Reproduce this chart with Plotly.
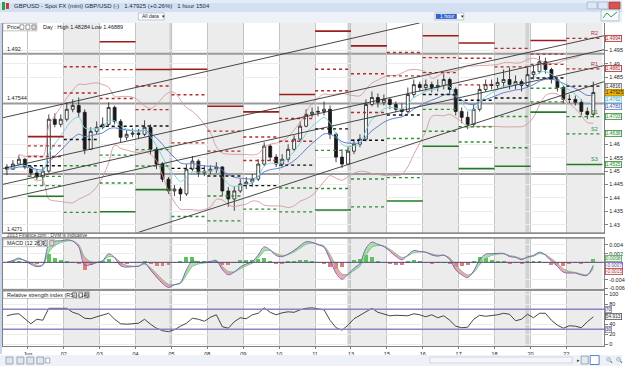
import numpy as np
import pandas as pd
import plotly.graph_objects as go

# ---------------- data ----------------
day_labels = ["Jun", "02", "03", "04", "05", "08", "09", "10", "11", "13",
              "15", "16", "17", "18", "20", "22"]
# 4-hour bars: day index (0 = Jun 1) and slot within the day (0..5)
bar_day = [-1] * 4 + [d for d in range(15) for _ in range(6)] + [15] * 5
bar_slot = [2, 3, 4, 5] + list(range(6)) * 15 + [0, 1, 2, 3, 4]

first_open = 1.4515
close = [
    1.4507, 1.4526, 1.4544, 1.4515,
    1.4493, 1.4478, 1.4500, 1.4693, 1.4674, 1.4693,
    1.4730, 1.4744, 1.4719, 1.4581, 1.4648, 1.4663,
    1.4674, 1.4737, 1.4685, 1.4626, 1.4637, 1.4641,
    1.4637, 1.4663, 1.4581, 1.4526, 1.4470, 1.4426,
    1.4433, 1.4415, 1.4507, 1.4537, 1.4493, 1.4500,
    1.4507, 1.4515, 1.4426, 1.4396, 1.4426, 1.4452,
    1.4459, 1.4470, 1.4526, 1.4593, 1.4552, 1.4526,
    1.4544, 1.4581, 1.4619, 1.4667, 1.4711, 1.4719,
    1.4722, 1.4730, 1.4637, 1.4552, 1.4526, 1.4574,
    1.4600, 1.4619, 1.4748, 1.4774, 1.4756, 1.4767,
    1.4748, 1.4730, 1.4722, 1.4785, 1.4822, 1.4811,
    1.4822, 1.4811, 1.4819, 1.4841, 1.4804, 1.4722,
    1.4700, 1.4674, 1.4730, 1.4804, 1.4822, 1.4819,
    1.4830, 1.4841, 1.4822, 1.4833, 1.4819, 1.4859,
    1.4870, 1.4907, 1.4878, 1.4841, 1.4811, 1.4767,
    1.4767, 1.4756, 1.4722, 1.4711, 1.47925,
]
high = [
    1.4526, 1.4541, 1.4559, 1.4548,
    1.4522, 1.4507, 1.4515, 1.4711, 1.4715, 1.4711,
    1.4756, 1.4767, 1.4774, 1.4730, 1.4663, 1.4685,
    1.4700, 1.4756, 1.4744, 1.4693, 1.4652, 1.4659,
    1.4656, 1.4689, 1.4674, 1.4589, 1.4533, 1.4478,
    1.4448, 1.4441, 1.4526, 1.4556, 1.4544, 1.4522,
    1.4522, 1.4533, 1.4519, 1.4441, 1.4444, 1.4470,
    1.4478, 1.4489, 1.4544, 1.4607, 1.4600, 1.4563,
    1.4563, 1.4600, 1.4633, 1.4685, 1.4730, 1.4737,
    1.4741, 1.4759, 1.4744, 1.4644, 1.4581, 1.4589,
    1.4619, 1.4637, 1.4767, 1.4796, 1.4789, 1.4785,
    1.4774, 1.4759, 1.4752, 1.4811, 1.4841, 1.4833,
    1.4841, 1.4833, 1.4841, 1.4863, 1.4848, 1.4811,
    1.4737, 1.4722, 1.4748, 1.4822, 1.4841, 1.4841,
    1.4848, 1.4878, 1.4885, 1.4856, 1.4841, 1.4885,
    1.4893, 1.4930, 1.4922, 1.4885, 1.4848, 1.4819,
    1.4785, 1.4781, 1.4767, 1.4737, 1.4833,
]
low = [
    1.4485, 1.4504, 1.4522, 1.4507,
    1.4478, 1.4467, 1.4444, 1.4493, 1.4663, 1.4663,
    1.4685, 1.4719, 1.4700, 1.4563, 1.4581, 1.4637,
    1.4656, 1.4667, 1.4674, 1.4607, 1.4615, 1.4626,
    1.4622, 1.4630, 1.4563, 1.4507, 1.4459, 1.4415,
    1.4407, 1.4389, 1.4407, 1.4500, 1.4478, 1.4481,
    1.4489, 1.4493, 1.4407, 1.4367, 1.4352, 1.4419,
    1.4433, 1.4441, 1.4463, 1.4519, 1.4537, 1.4515,
    1.4515, 1.4533, 1.4574, 1.4611, 1.4663, 1.4700,
    1.4704, 1.4707, 1.4619, 1.4533, 1.4511, 1.4522,
    1.4563, 1.4589, 1.4611, 1.4741, 1.4737, 1.4744,
    1.4730, 1.4719, 1.4704, 1.4715, 1.4774, 1.4796,
    1.4800, 1.4793, 1.4796, 1.4804, 1.4789, 1.4707,
    1.4678, 1.4656, 1.4663, 1.4722, 1.4796, 1.4804,
    1.4807, 1.4811, 1.4804, 1.4804, 1.4796, 1.4811,
    1.4841, 1.4863, 1.4863, 1.4826, 1.4796, 1.4752,
    1.4752, 1.4744, 1.4707, 1.4693, 1.4700,
]
rsi_values = [
    57, 60, 61, 50,
    41, 50, 48, 72, 72, 71,
    72, 64, 60, 52, 51, 55,
    59, 62, 50, 41, 40, 41,
    42, 50, 40, 32, 27, 25,
    29, 36, 42, 52, 50, 46,
    54, 59, 35, 32, 45, 53,
    51, 59, 62, 73, 64, 59,
    63, 65, 64, 69, 72, 73,
    71, 69, 48, 33, 28, 38,
    51, 58, 64, 72, 64, 60,
    57, 58, 57, 57, 61, 59,
    55, 59, 53, 57, 48, 36,
    33, 34, 50, 58, 56, 57,
    59, 62, 60, 47, 50, 60,
    53, 62, 62, 48, 38, 32,
    37, 36, 33, 45, 54.913,
]
# drawn trend lines (start day, start price, end day, end price)
trend_x0 = [-0.78, -0.78, -0.78, -0.78, 2.97]
trend_y0 = [1.4696, 1.4507, 1.4448, 1.4393, 1.4267]
trend_x1 = [10.92, 16.05, 16.05, 16.05, 16.05]
trend_y1 = [1.5052, 1.5004, 1.4952, 1.4893, 1.4833]
key_levels = [1.4937, 1.4752, 1.4489]
key_level_text = ["1.492", "1.47544", ""]
sunday_strips = [(3.94, 4.02), (8.90, 8.98), (13.86, 13.96)]

# ---------------- helpers ----------------
W, H = 625, 368
FONT = "Liberation Sans"


def PX(p):
    return p / W


def PY(p):
    return 1 - p / H


X_RANGE = [-0.693, 16.05]
P_RANGE = [1.427037, 1.505185]
M_RANGE = [-0.00625, 0.00557]
R_RANGE = [-4, 106]

bar_x = [d + (s + 0.5) / 6 for d, s in zip(bar_day, bar_slot)]
c = pd.Series(close)
opens = [first_open] + close[:-1]

# indicators
ema_fast = c.ewm(span=5, adjust=False).mean()
ema_slow = c.ewm(span=12, adjust=False).mean()
bb_mid = c.rolling(12, min_periods=3).mean()
bb_sd = c.rolling(12, min_periods=3).std()
bb_up = bb_mid + 2 * bb_sd
bb_lo = bb_mid - 2 * bb_sd
macd = c.ewm(span=3, adjust=False).mean() - c.ewm(span=6.5, adjust=False).mean()
signal = macd.ewm(span=2.25, adjust=False).mean()
hist = macd - signal

fig = go.Figure()
shapes = []
ann = []

# shaded alternate days & sunday strips in each panel
for yref in ["y domain", "y2 domain", "y3 domain"]:
    for d in range(1, 17, 2):
        shapes.append(dict(type="rect", xref="x", yref=yref, x0=d, x1=d + 1, y0=0, y1=1,
                           fillcolor="#ececec", line_width=0, layer="below"))
    for a, b in sunday_strips:
        shapes.append(dict(type="rect", xref="x", yref=yref, x0=a, x1=b, y0=0, y1=1,
                           fillcolor="#d2d2d2", line_width=0, layer="below"))

# key horizontal levels
for lv, tx in zip(key_levels, key_level_text):
    shapes.append(dict(type="line", xref="x domain", yref="y", x0=0, x1=1, y0=lv, y1=lv,
                       line=dict(color="#9a9a9a", width=2), layer="below"))
    if tx:
        ann.append(dict(x=PX(5), y=lv, xref="paper", yref="y", text=tx, showarrow=False,
                        xanchor="left", yanchor="bottom", font=dict(size=5.5, color="#222", family=FONT)))

# Bollinger bands
for s in (bb_up, bb_lo):
    fig.add_trace(go.Scatter(x=bar_x, y=s, mode="lines", line=dict(color="#d49a9a", width=0.9,
                                                                     shape="spline"), hoverinfo="skip"))
# moving averages
fig.add_trace(go.Scatter(x=bar_x, y=ema_slow, mode="lines", line=dict(color="#5f7fcf", width=1, shape="spline")))
fig.add_trace(go.Scatter(x=bar_x, y=ema_fast, mode="lines", line=dict(color="#7ad3e0", width=1, shape="spline")))

# daily pivots from previous day
df = pd.DataFrame(dict(day=bar_day, h=high, l=low, c=close))
daily = df.groupby("day").agg(h=("h", "max"), l=("l", "min"), c=("c", "last"))
levels = {k: ([], []) for k in ["P", "R1", "R2", "R3", "S1", "S2", "S3"]}
last_piv = {}
for d in range(0, 16):
    if d - 1 not in daily.index:
        continue
    hh, ll, cc = daily.loc[d - 1, "h"], daily.loc[d - 1, "l"], daily.loc[d - 1, "c"]
    p = (hh + ll + cc) / 3
    vals = dict(P=p, R1=2 * p - ll, S1=2 * p - hh, R2=p + (hh - ll), S2=p - (hh - ll),
                R3=hh + 2 * (p - ll), S3=ll - 2 * (hh - p))
    last_piv = vals
    x1 = min(d + 1, X_RANGE[1])
    for k, v in vals.items():
        levels[k][0].extend([d, x1, None])
        levels[k][1].extend([v, v, None])
piv_style = dict(P=("#111111", "dot", 1.4), R1=("#b52a2a", "dot", 1.4), R2=("#b52a2a", "dot", 1.4),
                 R3=("#9a1c1c", "solid", 1.6), S1=("#2f8f2f", "dot", 1.4), S2=("#2f8f2f", "dot", 1.4),
                 S3=("#247a24", "solid", 1.6))
for k, (xs, ys) in levels.items():
    col, dash, wd = piv_style[k]
    fig.add_trace(go.Scatter(x=xs, y=ys, mode="lines", line=dict(color=col, dash=dash, width=wd),
                             connectgaps=False))

# trend lines
for a, b, cc_, dd in zip(trend_x0, trend_y0, trend_x1, trend_y1):
    fig.add_trace(go.Scatter(x=[a, cc_], y=[b, dd], mode="lines", line=dict(color="#333333", width=0.9)))

# candles
fig.add_trace(go.Candlestick(x=bar_x, open=opens, high=high, low=low, close=close,
                             increasing=dict(line=dict(color="#1a1a1a", width=0.8), fillcolor="#ffffff"),
                             decreasing=dict(line=dict(color="#1a1a1a", width=0.8), fillcolor="#1a1a1a"),
                             whiskerwidth=0))

# ---------- MACD panel ----------
def fill_polys(xs, a, b):
    px_, py_, nx_, ny_ = [], [], [], []
    for i in range(len(xs) - 1):
        x0, x1 = xs[i], xs[i + 1]
        a0, a1, b0, b1 = a[i], a[i + 1], b[i], b[i + 1]
        d0, d1 = a0 - b0, a1 - b1
        if d0 * d1 >= 0:
            tx, ty = [x0, x1, x1, x0, x0, None], [a0, a1, b1, b0, a0, None]
            if d0 + d1 >= 0:
                px_ += tx; py_ += ty
            else:
                nx_ += tx; ny_ += ty
        else:
            t = d0 / (d0 - d1)
            xc = x0 + t * (x1 - x0)
            yc = a0 + t * (a1 - a0)
            t1x, t1y = [x0, xc, x0, x0, None], [a0, yc, b0, a0, None]
            t2x, t2y = [xc, x1, x1, xc, None], [yc, a1, b1, yc, None]
            if d0 > 0:
                px_ += t1x; py_ += t1y; nx_ += t2x; ny_ += t2y
            else:
                nx_ += t1x; ny_ += t1y; px_ += t2x; py_ += t2y
    return px_, py_, nx_, ny_


pxs, pys, nxs, nys = fill_polys(bar_x, list(macd), list(signal))
fig.add_trace(go.Bar(x=bar_x, y=hist, width=0.11,
                     marker=dict(color=["#5cc35c" if v >= 0 else "#e27b7b" for v in hist], line_width=0),
                     xaxis="x2", yaxis="y2"))
fig.add_trace(go.Scatter(x=pxs, y=pys, fill="toself", fillcolor="rgba(140,220,140,0.75)", mode="none",
                         xaxis="x2", yaxis="y2"))
fig.add_trace(go.Scatter(x=nxs, y=nys, fill="toself", fillcolor="rgba(236,140,150,0.75)", mode="none",
                         xaxis="x2", yaxis="y2"))
fig.add_trace(go.Scatter(x=bar_x, y=signal, mode="lines", line=dict(color="#79c08a", width=0.9, shape="spline"),
                         xaxis="x2", yaxis="y2"))
fig.add_trace(go.Scatter(x=bar_x, y=macd, mode="lines", line=dict(color="#7a55b0", width=0.9, shape="spline"),
                         xaxis="x2", yaxis="y2"))
shapes.append(dict(type="line", xref="x2 domain", yref="y2", x0=0, x1=1, y0=0, y1=0,
                   line=dict(color="#4d4d7a", width=1)))

# ---------- RSI panel ----------
for lv in (70, 30):
    shapes.append(dict(type="line", xref="x3 domain", yref="y3", x0=0, x1=1, y0=lv, y1=lv,
                       line=dict(color="#8585c8", width=1.5)))
fig.add_trace(go.Scatter(x=bar_x, y=rsi_values, mode="lines", line=dict(color="#333333", width=0.9),
                         xaxis="x3", yaxis="y3"))

# ---------- right-side value boxes ----------
def box(y, yref, text, border, bg="#f6f6f6", fc="#333", yshift=0):
    ann.append(dict(x=PX(608), y=y, xref="paper", yref=yref, text=text, showarrow=False,
                    xanchor="left", yanchor="middle", font=dict(size=4.8, color=fc, family=FONT),
                    bgcolor=bg, bordercolor=border, borderwidth=0.8, borderpad=0, yshift=yshift))


price_boxes = []
for k in ["R2", "R1", "S1", "S2", "S3"]:
    v = last_piv[k]
    col = "#b52a2a" if k[0] == "R" else "#2f8f2f"
    box(v, "y", f"{v:.4f}", col, fc=col)
    price_boxes.append(v)
    ann.append(dict(x=15.95, y=v, xref="x", yref="y", text=k, showarrow=False, xanchor="right",
                    yanchor="bottom", font=dict(size=5.5, color=col, family=FONT)))
# stacked boxes next to the last price (as the reference stacks them)
box(close[-1], "y", f"{last_piv['P']:.4f}", "#777777", fc="#333", yshift=6)
box(close[-1], "y", f"{close[-1]:.5f}"[:7], "#c08a00", bg="#f3b400", fc="#222", yshift=0)
box(close[-1], "y", f"{ema_fast.iloc[-1]:.4f}", "#7ad3e0", fc="#2aa0b8", yshift=-7)
box(close[-1], "y", f"{ema_slow.iloc[-1]:.4f}", "#5f7fcf", fc="#3355aa", yshift=-14)
price_boxes += [last_piv["P"], ema_slow.iloc[-1], ema_fast.iloc[-1], close[-1]]

box(0, "y2", f"{hist.iloc[-1]:.4f}", "#4caf50", fc="#2f8f2f", yshift=4)
box(0, "y2", f"{macd.iloc[-1]:.4f}", "#7a55b0", fc="#7a55b0", yshift=-3)
box(0, "y2", f"{signal.iloc[-1]:.4f}", "#c04040", fc="#c04040", yshift=-9)
box(70, "y3", "70", "#8585c8")
box(rsi_values[-1], "y3", f"{rsi_values[-1]:.3f}", "#555555")
box(30, "y3", "30", "#8585c8")

# ---------- chrome ----------
def rect(x0, y0, x1, y1, fill, line="rgba(0,0,0,0)", lw=0):
    shapes.append(dict(type="rect", xref="paper", yref="paper", x0=PX(x0), x1=PX(x1), y0=PY(y1), y1=PY(y0),
                       fillcolor=fill, line=dict(color=line, width=lw), layer="above"))


def text(x, y, t, size=6, color="#222", anchor="left"):
    ann.append(dict(x=PX(x), y=PY(y), xref="paper", yref="paper", text=t, showarrow=False,
                    xanchor=anchor, yanchor="middle", font=dict(size=size, color=color, family=FONT)))


# title bar
rect(0, 0, 625, 12, "#d3e0f1")
rect(0, 0, 625, 3, "#e3ecf8")
rect(2, 2, 5, 10, "#2e9e3e"); rect(6, 3, 9, 9, "#c63a3a")
text(12, 6, "GBPUSD - Spot FX (mini) GBP/USD (-)&nbsp;&nbsp;&nbsp;1.47925 (+0.26%)&nbsp;&nbsp;&nbsp;1 hour 1504",
     size=6, color="#1b2a44")
rect(590, 2, 600, 9, "#dfe7f2", "#8ea3c0", 0.6)
rect(601, 2, 611, 9, "#dfe7f2", "#8ea3c0", 0.6)
rect(612, 2, 623, 9, "#d9534f", "#9a2b28", 0.6)
# toolbar
rect(0, 12, 625, 23, "#eef2f8")
rect(139, 13, 165, 20, "#ffffff", "#9aa5b5", 0.6)
text(141, 16.5, "All data", size=5)
text(161, 16.5, "▾", size=5)
rect(437, 13, 466, 20, "#ffffff", "#9aa5b5", 0.6)
rect(438, 14, 459, 19, "#2f63d0")
text(440, 16.5, "1 hour", size=5, color="#ffffff")
text(461, 16.5, "▾", size=5)
rect(604, 10, 622, 21, "#f7f9fc", "#8ea3c0", 0.6)
shapes.append(dict(type="path", xref="paper", yref="paper", layer="above",
                   path=f"M {PX(606)},{PY(18)} L {PX(610)},{PY(13)} L {PX(614)},{PY(17)} L {PX(620)},{PY(12)}",
                   line=dict(color="#2e9e3e", width=1)))
# left frame
rect(0, 23, 2, 356, "#c9d6ea")
# panel separators
rect(2, 233.5, 607, 235, "#8f8f8f")
rect(2, 238.5, 607, 240, "#8f8f8f")
rect(2, 290.5, 607, 292.5, "#8f8f8f")
text(5, 236.8, "2013 Finance.com : DVM is indicative", size=4.8, color="#333")
# panel labels
rect(3, 23.5, 37, 31, "#ffffff", "#9a9a9a", 0.6)
text(5, 27.3, "Price", size=5.5)
rect(20, 25, 24, 29.5, "#ffffff", "#555", 0.6)
rect(26, 25, 30, 29.5, "#ffffff", "#555", 0.6)
rect(32, 25, 36, 29.5, "#dddddd", "#555", 0.6)
text(41, 27.3, "Day : High 1.48284 Low 1.46889", size=5.5)
text(5, 230.5, "1.4271", size=5)
rect(3, 241, 55, 248, "#ffffff", "#9a9a9a", 0.6)
text(5, 244.5, "MACD (12 26 9)", size=5.5)
rect(38, 242, 42, 247, "#ffffff", "#555", 0.6)
rect(44, 242, 48, 247, "#ffffff", "#555", 0.6)
rect(50, 242, 54, 247, "#dddddd", "#555", 0.6)
rect(3, 293, 90, 300, "#ffffff", "#9a9a9a", 0.6)
text(5, 296.5, "Relative strength index (RSI) (14)", size=5.5)
rect(73, 294, 77, 299, "#ffffff", "#555", 0.6)
rect(79, 294, 83, 299, "#ffffff", "#555", 0.6)
rect(85, 294, 89, 299, "#dddddd", "#555", 0.6)
# bottom bar
rect(0, 357, 625, 368, "#eef2f8")
for xx in [6, 17, 27, 37]:
    rect(xx, 359, xx + 7, 366, "#dfe5ee", "#6d7a8c", 0.6)
rect(46, 360, 50, 365, "#ffffff", "#6d7a8c", 0.6)
rect(432, 359, 575, 365, "#f4f6fa", "#b9c2cf", 0.6)
text(578, 362, "▸", size=5, color="#333")
rect(584, 358, 591, 366, "#e5ebf3", "#6d7a8c", 0.6)
rect(593, 357.5, 602, 366.5, "#ffffff", "#2f63d0", 0.8)
text(607, 362, "🔍", size=5.5)
text(617, 362, "🔍", size=5.5)

# tick labels hidden where a value box sits (as in the reference)
all_price_ticks = [round(1.43 + 0.005 * i, 3) for i in range(15)]
price_ticks = [t for t in all_price_ticks if min(abs(t - b) for b in price_boxes) > 0.0016]
macd_ticks = [-0.006, -0.004, 0.002, 0.004]
rsi_ticks = [0, 20, 40, 80, 100]

axis_font = dict(size=5.5, color="#222", family=FONT)
fig.update_layout(
    width=W, height=H, margin=dict(l=0, r=0, t=0, b=0),
    paper_bgcolor="#ffffff", plot_bgcolor="#ffffff", showlegend=False, bargap=0,
    font=dict(family=FONT, size=6),
    xaxis=dict(domain=[PX(3), PX(607)], range=X_RANGE, anchor="y", tickvals=list(range(16)),
               showticklabels=False, showgrid=True, gridcolor="#c4c4c4", gridwidth=1, zeroline=False,
               showline=True, linecolor="#808080", linewidth=1, mirror=True, rangeslider=dict(visible=False)),
    xaxis2=dict(domain=[PX(3), PX(607)], range=X_RANGE, anchor="y2", matches="x", tickvals=list(range(16)),
                showticklabels=False, showgrid=True, gridcolor="#c4c4c4", zeroline=False,
                showline=True, linecolor="#808080", mirror=True),
    xaxis3=dict(domain=[PX(3), PX(607)], range=X_RANGE, anchor="y3", matches="x", tickvals=list(range(16)),
                ticktext=day_labels, showticklabels=True, tickfont=axis_font, ticks="outside", ticklen=2,
                tickcolor="#808080", showgrid=True, gridcolor="#c4c4c4", zeroline=False,
                showline=True, linecolor="#808080", mirror=True),
    yaxis=dict(domain=[PY(234), PY(23)], range=P_RANGE, anchor="x", side="right", tickvals=price_ticks,
               ticktext=[f"{v:.3f}".rstrip("0").rstrip(".") for v in price_ticks], tickfont=axis_font,
               ticks="outside", ticklen=3, tickcolor="#808080", showgrid=True, gridcolor="#ececec",
               zeroline=False, showline=True, linecolor="#808080", mirror=True),
    yaxis2=dict(domain=[PY(291), PY(239.5)], range=M_RANGE, anchor="x2", side="right",
                tickvals=macd_ticks, ticktext=[f"{v:g}" for v in macd_ticks], tickfont=axis_font,
                ticks="outside", ticklen=3, tickcolor="#808080", showgrid=True, gridcolor="#ececec",
                zeroline=False, showline=True, linecolor="#808080", mirror=True),
    yaxis3=dict(domain=[PY(348), PY(293)], range=R_RANGE, anchor="x3", side="right",
                tickvals=rsi_ticks, tickfont=axis_font, ticks="outside", ticklen=3,
                tickcolor="#808080", showgrid=True, gridcolor="#ececec", zeroline=False,
                showline=True, linecolor="#808080", mirror=True),
    shapes=shapes, annotations=ann,
)

fig.write_html("out.html")
